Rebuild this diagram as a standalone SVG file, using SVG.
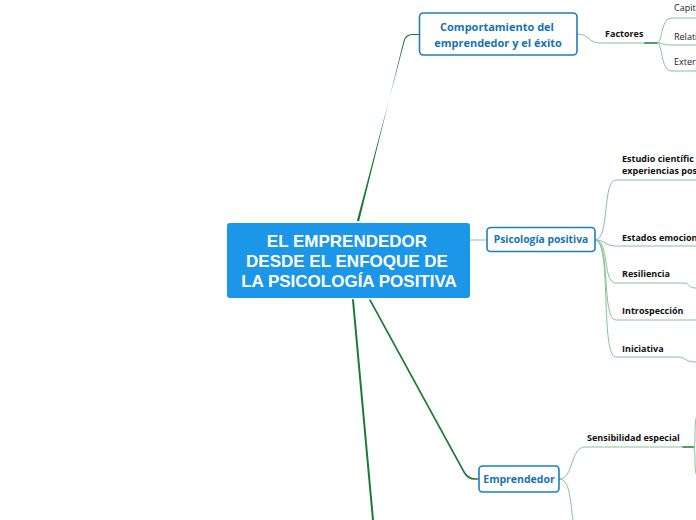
<svg xmlns="http://www.w3.org/2000/svg" width="696" height="520" viewBox="0 0 696 520">
<style>
.main{fill:none;stroke:#1f7a35;stroke-width:1.6;stroke-linecap:round}
.sub{fill:none;stroke:#86c296;stroke-width:1}
.box{fill:#ffffff;stroke:#1d7dbf;stroke-width:1.6}
.bt{font-family:"Open Sans","DejaVu Sans",sans-serif;font-weight:bold;fill:#1673b4;text-anchor:middle}
.lt{font-family:"Open Sans","DejaVu Sans",sans-serif;font-weight:bold;font-size:9px;fill:#111111}
.ct{font-family:"Liberation Sans",Arial,sans-serif;font-weight:bold;font-size:17px;fill:#ffffff;text-anchor:middle}
.gt{font-family:"Open Sans","DejaVu Sans",sans-serif;font-size:9px;fill:#222222}
</style>
<rect width="696" height="520" fill="#ffffff"/>
<g id="connectors">
<path d="M356.8,221 L359.2,221 L403.5,41 Q405.5,34 412,34 L419,34 L419,35 L412,35 Q406.5,35 404.5,41.5 Z" fill="#1f7a35"/>
<path class="main" d="M370,300 L464,472 Q468,479 475,479 L479,479"/>
<path class="main" d="M353,300 L373,520" style="stroke-width:2"/>
<path class="sub" d="M470,240 L487,240"/>
<path class="sub" d="M577,34 C590,34 588,43 600,43 L645,43"/>
<path class="main" d="M645,43 L657,43" style="stroke-width:1.6"/>
<path class="sub" d="M657,43 C663,43 660,18 672,18 L696,18"/>
<path class="sub" d="M657,43 C663,43 664,45 672,45 L696,45"/>
<path class="sub" d="M657,43 C663,43 660,71 672,71 L696,71"/>
<path class="sub" d="M595,240 C610,240 602,180 616,180 L696,180"/>
<path class="sub" d="M595,240 C606,240 604,246 616,246 L696,246"/>
<path class="sub" d="M595,240 C610,240 602,283 616,283 L684,283 C690,283 688,288 696,288"/>
<path class="sub" d="M595,240 C611,240 601,320 616,320 L696,320"/>
<path class="sub" d="M595,240 C612,240 600,357 616,357 L678,357 C686,357 684,362 696,362"/>
<path class="sub" d="M559,479 C574,479 570,447 585,447 L683,447"/>
<path class="main" d="M683,447 L694,447" style="stroke-width:1.6"/>
<path class="sub" d="M694,447 C696,440 694,430 696,418"/>
<path class="sub" d="M694,447 C696,455 694,465 696,474"/>
<path class="sub" d="M559,479 C570,479 570,500 573,520"/>
</g>
<g id="central">
<rect x="227" y="223" width="243" height="75" rx="3" fill="#1b96e8"/>
<text class="ct" x="347" y="247">EL EMPRENDEDOR</text>
<text class="ct" x="347" y="267">DESDE EL ENFOQUE DE </text>
<text class="ct" x="349" y="287">LA PSICOLOGÍA POSITIVA</text>
</g>
<g id="comportamiento">
<rect class="box" x="419.5" y="13" width="157.5" height="42" rx="4"/>
<text class="bt" x="497" y="31" font-size="11">Comportamiento del</text>
<text class="bt" x="498" y="47" font-size="11">emprendedor y el éxito</text>
</g>
<g id="factores"><text class="lt" x="605" y="37">Factores</text></g>
<g id="capit"><text class="gt" x="674" y="11">Capit</text></g>
<g id="relati"><text class="gt" x="674" y="40">Relati</text></g>
<g id="exter"><text class="gt" x="674" y="65">Exter</text></g>
<g id="psicologia">
<rect class="box" x="487" y="227.5" width="108" height="24" rx="3.5"/>
<text class="bt" x="541" y="243" font-size="10.3">Psicología positiva</text>
</g>
<g id="estudio">
<text class="lt" x="622" y="162">Estudio científic</text>
<text class="lt" x="622" y="174">experiencias pos</text>
</g>
<g id="estados"><text class="lt" x="622" y="241">Estados emocion</text></g>
<g id="resiliencia"><text class="lt" x="622" y="277">Resiliencia</text></g>
<g id="introspeccion"><text class="lt" x="622" y="314">Introspección</text></g>
<g id="iniciativa"><text class="lt" x="622" y="352">Iniciativa</text></g>
<g id="emprendedor">
<rect class="box" x="479" y="466" width="80" height="26" rx="3.5"/>
<text class="bt" x="519" y="483" font-size="10.5">Emprendedor</text>
</g>
<g id="sensibilidad"><text class="lt" x="587" y="441">Sensibilidad especial</text></g>
</svg>
